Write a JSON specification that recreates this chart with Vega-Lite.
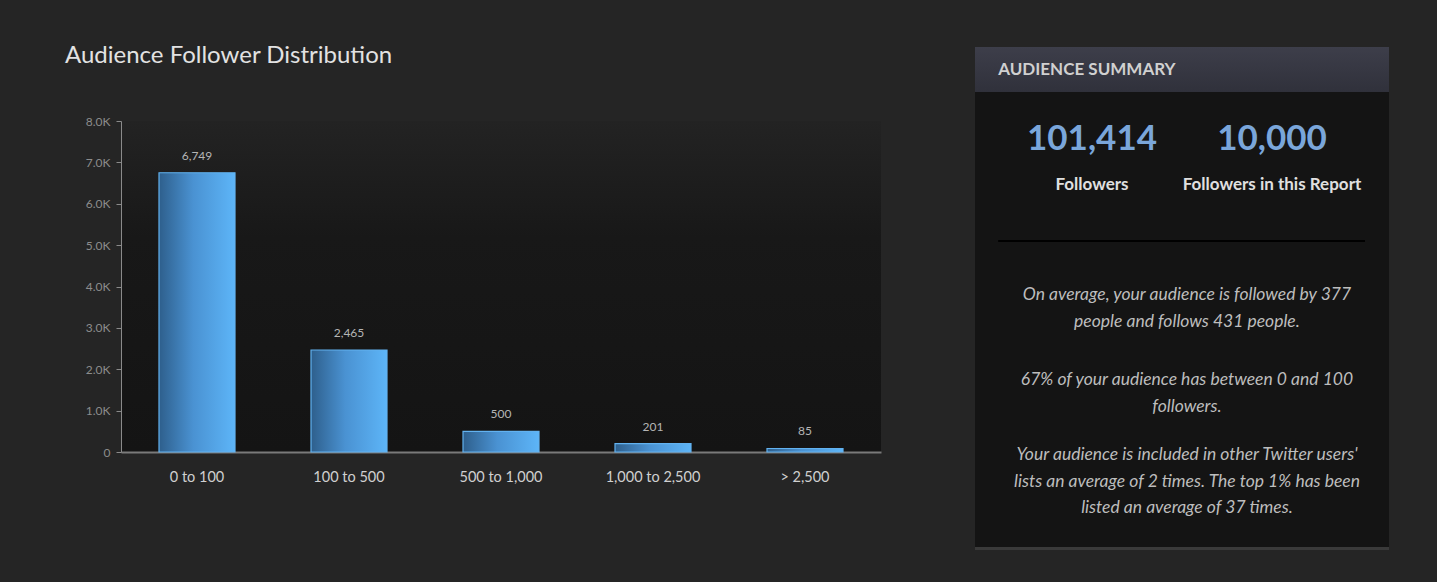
{
  "$schema": "https://vega.github.io/schema/vega-lite/v6.json",
  "background": "#252525",
  "padding": {"left": 65, "top": 44, "right": 48, "bottom": 32},
  "config": {"font": "Lato", "view": {"stroke": null}},
  "datasets": {
    "distribution": [
      {"range": "0 to 100", "followers": 6749},
      {"range": "100 to 500", "followers": 2465},
      {"range": "500 to 1,000", "followers": 500},
      {"range": "1,000 to 2,500", "followers": 201},
      {"range": "> 2,500", "followers": 85}
    ],
    "header": [{"heading": "AUDIENCE SUMMARY"}],
    "stats": [
      {"metric": "Followers", "count": 101414},
      {"metric": "Followers in this Report", "count": 10000}
    ],
    "notes": [
      {"note": 1, "lines": ["On average, your audience is followed by 377", "people and follows 431 people."]},
      {"note": 2, "lines": ["67% of your audience has between 0 and 100", "followers."]},
      {"note": 3, "lines": ["Your audience is included in other Twitter users'", "lists an average of 2 times. The top 1% has been", "listed an average of 37 times."]}
    ]
  },
  "spacing": 92,
  "hconcat": [
    {
      "width": 760,
      "height": 331,
      "title": {
        "text": "Audience Follower Distribution",
        "anchor": "start",
        "frame": "group",
        "dx": -56,
        "offset": 47,
        "fontSize": 24,
        "fontWeight": "normal",
        "color": "#e2e2e2",
        "font": "Lato"
      },
      "view": {
        "stroke": null,
        "fill": {
          "gradient": "linear",
          "x1": 0, "y1": 0, "x2": 0, "y2": 1,
          "stops": [
            {"offset": 0, "color": "#232323"},
            {"offset": 0.35, "color": "#181818"},
            {"offset": 1, "color": "#141414"}
          ]
        }
      },
      "data": {"name": "distribution"},
      "encoding": {
        "x": {
          "field": "range",
          "type": "nominal",
          "sort": null,
          "scale": {"paddingInner": 0.5, "paddingOuter": 0.25},
          "axis": {
            "title": null,
            "labelAngle": 0,
            "ticks": false,
            "domainColor": "#7a7a7a",
            "domainWidth": 2,
            "labelColor": "#d0d0d0",
            "labelFontSize": 14.5,
            "labelPadding": 18,
            "labelFont": "Lato"
          }
        },
        "y": {
          "field": "followers",
          "type": "quantitative",
          "scale": {"domain": [0, 8000]},
          "axis": {
            "title": null,
            "values": [0, 1000, 2000, 3000, 4000, 5000, 6000, 7000, 8000],
            "labelExpr": "datum.value == 0 ? '0' : format(datum.value / 1000, '.1f') + 'K'",
            "grid": false,
            "domainColor": "#8a8a8a",
            "tickColor": "#8a8a8a",
            "tickSize": 5,
            "labelColor": "#8c8c8c",
            "labelFontSize": 12,
            "labelPadding": 6,
            "labelFont": "Lato"
          }
        }
      },
      "layer": [
        {
          "mark": {
            "type": "bar",
            "stroke": "#62b2f0",
            "strokeWidth": 1.2,
            "color": {
              "gradient": "linear",
              "x1": 0, "y1": 0, "x2": 1, "y2": 0,
              "stops": [
                {"offset": 0, "color": "#2e5f8c"},
                {"offset": 0.45, "color": "#4a92d2"},
                {"offset": 1, "color": "#5db5f8"}
              ]
            }
          }
        },
        {
          "mark": {"type": "text", "baseline": "alphabetic", "dy": -13, "color": "#b5b5b5", "fontSize": 12, "font": "Lato"},
          "encoding": {"text": {"field": "followers", "type": "quantitative", "format": ","}}
        }
      ]
    },
    {
      "width": 414,
      "height": 429,
      "view": {"stroke": null, "fill": null},
      "resolve": {"scale": {"x": "independent"}},
      "layer": [
        {
          "data": {"name": "header"},
          "mark": {"type": "rect", "color": "#141414"},
          "encoding": {
            "x": {"datum": 0, "type": "quantitative", "scale": {"domain": [0, 100]}, "axis": null},
            "x2": {"datum": 100},
            "y": {"datum": 0, "type": "quantitative", "scale": {"domain": [14.71, 100], "reverse": true, "nice": false, "zero": false}, "axis": null},
            "y2": {"datum": 100}
          }
        },
        {
          "data": {"name": "header"},
          "mark": {
            "type": "rect",
            "color": {
              "gradient": "linear",
              "x1": 0, "y1": 0, "x2": 0, "y2": 1,
              "stops": [
                {"offset": 0, "color": "#3d3e4a"},
                {"offset": 1, "color": "#30313b"}
              ]
            }
          },
          "encoding": {
            "x": {"datum": 0, "type": "quantitative", "scale": {"domain": [0, 100]}, "axis": null},
            "x2": {"datum": 100},
            "y": {"datum": 0, "type": "quantitative", "axis": null},
            "y2": {"datum": 8.95}
          }
        },
        {
          "data": {"name": "header"},
          "mark": {"type": "text", "align": "left", "baseline": "middle", "fontWeight": "bold", "fontSize": 17, "color": "#d0d0d0", "font": "Lato"},
          "encoding": {
            "x": {"datum": 5.6, "type": "quantitative", "scale": {"domain": [0, 100]}, "axis": null},
            "y": {"datum": 4.57, "type": "quantitative", "axis": null},
            "text": {"field": "heading"}
          }
        },
        {
          "data": {"name": "stats"},
          "mark": {"type": "text", "align": "center", "baseline": "middle", "fontWeight": "bold", "fontSize": 35, "color": "#7aa6da", "font": "Lato"},
          "encoding": {
            "x": {"field": "metric", "type": "nominal", "sort": null, "scale": {"type": "point", "padding": 0.65}, "axis": null},
            "y": {"datum": 18.29, "type": "quantitative", "axis": null},
            "text": {"field": "count", "type": "quantitative", "format": ","}
          }
        },
        {
          "data": {"name": "stats"},
          "mark": {"type": "text", "align": "center", "baseline": "middle", "fontWeight": "bold", "fontSize": 17, "color": "#e0e0e0", "font": "Lato"},
          "encoding": {
            "x": {"field": "metric", "type": "nominal", "sort": null, "scale": {"type": "point", "padding": 0.65}, "axis": null},
            "y": {"datum": 27.44, "type": "quantitative", "axis": null},
            "text": {"field": "metric"}
          }
        },
        {
          "data": {"name": "header"},
          "mark": {"type": "rule", "stroke": "#000000", "strokeWidth": 2},
          "encoding": {
            "x": {"datum": 5.6, "type": "quantitative", "scale": {"domain": [0, 100]}, "axis": null},
            "x2": {"datum": 94.2},
            "y": {"datum": 38.57, "type": "quantitative", "axis": null}
          }
        },
        {
          "data": {"name": "notes"},
          "transform": [{"filter": "datum.note == 1"}],
          "mark": {"type": "text", "align": "center", "baseline": "alphabetic", "lineHeight": 26.5, "fontStyle": "italic", "fontSize": 17.5, "color": "#bdbdbd", "font": "Lato"},
          "encoding": {
            "x": {"datum": 51.2, "type": "quantitative", "scale": {"domain": [0, 100]}, "axis": null},
            "y": {"datum": 50.3, "type": "quantitative", "axis": null},
            "text": {"field": "lines"}
          }
        },
        {
          "data": {"name": "notes"},
          "transform": [{"filter": "datum.note == 2"}],
          "mark": {"type": "text", "align": "center", "baseline": "alphabetic", "lineHeight": 26.5, "fontStyle": "italic", "fontSize": 17.5, "color": "#bdbdbd", "font": "Lato"},
          "encoding": {
            "x": {"datum": 51.2, "type": "quantitative", "scale": {"domain": [0, 100]}, "axis": null},
            "y": {"datum": 67.2, "type": "quantitative", "axis": null},
            "text": {"field": "lines"}
          }
        },
        {
          "data": {"name": "notes"},
          "transform": [{"filter": "datum.note == 3"}],
          "mark": {"type": "text", "align": "center", "baseline": "alphabetic", "lineHeight": 26.5, "fontStyle": "italic", "fontSize": 17.5, "color": "#bdbdbd", "font": "Lato"},
          "encoding": {
            "x": {"datum": 51.2, "type": "quantitative", "scale": {"domain": [0, 100]}, "axis": null},
            "y": {"datum": 82.11, "type": "quantitative", "axis": null},
            "text": {"field": "lines"}
          }
        },
        {
          "data": {"name": "header"},
          "mark": {"type": "rule", "stroke": "#3a3a3a", "strokeWidth": 3},
          "encoding": {
            "x": {"datum": 0, "type": "quantitative", "scale": {"domain": [0, 100]}, "axis": null},
            "x2": {"datum": 100},
            "y": {"datum": 99.7, "type": "quantitative", "axis": null}
          }
        }
      ]
    }
  ]
}
